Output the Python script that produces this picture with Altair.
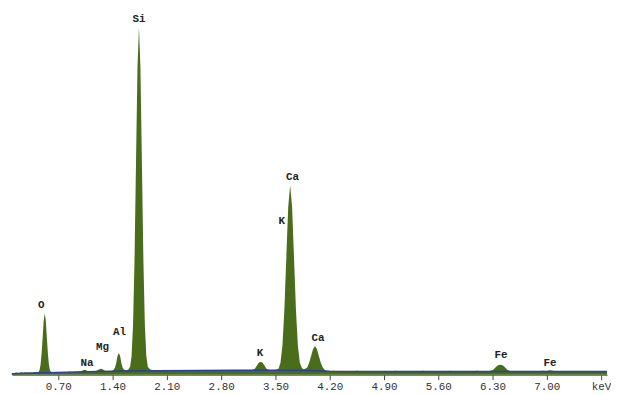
import altair as alt
import pandas as pd

# Spectrum (energy in keV, counts in arbitrary units)
energy = [
    0.10, 0.13, 0.16, 0.19, 0.22, 0.25, 0.28, 0.31, 0.34, 0.37, 0.40,
    0.444, 0.4575, 0.471, 0.4845, 0.498, 0.5115, 0.525, 0.5385, 0.552, 0.5655, 0.579, 0.5925, 0.606,
    0.64, 0.68, 0.72, 0.76, 0.80, 0.84, 0.88, 0.92, 0.96, 0.99,
    1.02, 1.04, 1.06, 1.09, 1.13, 1.17, 1.20, 1.23, 1.25, 1.27, 1.30, 1.34, 1.38,
    1.41, 1.43, 1.445, 1.463, 1.48, 1.497, 1.515, 1.53, 1.55, 1.575,
    1.60, 1.626, 1.645, 1.664, 1.683, 1.702, 1.721, 1.74, 1.759, 1.778, 1.797, 1.816, 1.835, 1.854, 1.88,
    1.92, 1.96, 2.00, 2.05, 2.10, 2.15, 2.20, 2.25, 2.30, 2.35, 2.40, 2.45, 2.50, 2.55, 2.60, 2.65,
    2.70, 2.75, 2.80, 2.85, 2.90, 2.95, 3.00, 3.05, 3.10, 3.15,
    3.21, 3.235, 3.26, 3.285, 3.31, 3.335, 3.36, 3.385, 3.41, 3.45, 3.50,
    3.54, 3.565, 3.59, 3.615, 3.64, 3.665, 3.69, 3.715, 3.74, 3.765, 3.79, 3.815, 3.84,
    3.86, 3.885, 3.91, 3.935, 3.96, 3.985, 4.01, 4.035, 4.06, 4.085, 4.11, 4.135, 4.16,
    4.20, 4.25, 4.30, 4.35, 4.40, 4.45, 4.50, 4.55, 4.60, 4.65, 4.70, 4.75, 4.80, 4.85, 4.90,
    4.95, 5.00, 5.05, 5.10, 5.15, 5.20, 5.25, 5.30, 5.35, 5.40, 5.45, 5.50, 5.55, 5.60, 5.65,
    5.70, 5.75, 5.80, 5.85, 5.90, 5.95, 6.00, 6.05, 6.10, 6.15, 6.20, 6.25,
    6.28, 6.31, 6.34, 6.37, 6.40, 6.43, 6.46, 6.49, 6.52,
    6.56, 6.60, 6.65, 6.70, 6.75, 6.80, 6.85, 6.90, 6.95, 7.00, 7.04, 7.08, 7.12,
    7.17, 7.22, 7.27, 7.32, 7.37, 7.42, 7.47, 7.52, 7.57, 7.62, 7.67, 7.72, 7.777,
]
counts = [
    1.0, 1.5, 2.2, 1.8, 2.5, 2.0, 2.4, 1.9, 2.3, 2.0, 2.4,
    2.7, 4.6, 10, 21.5, 38, 55, 62, 55, 38, 21.5, 10, 4.6, 2.7,
    2.2, 2.6, 2.3, 2.8, 2.5, 3.0, 2.7, 3.1, 2.9, 3.4,
    4.6, 5.0, 4.6, 3.3, 3.2, 3.4, 4.2, 5.6, 6.0, 5.6, 4.0, 3.6, 3.8,
    4.5, 7, 11, 19, 22, 19, 11, 7, 5, 4.5,
    5, 8, 19, 51, 117, 215, 311, 352, 311, 215, 117, 51, 19, 8, 5.5,
    4.6, 4.2, 4.5, 4.1, 4.4, 4.0, 4.3, 3.9, 4.4, 4.1, 4.5, 4.2, 4.6, 4.3, 4.5, 4.2,
    4.6, 4.3, 4.7, 4.4, 4.8, 4.5, 4.7, 4.4, 4.8, 4.6,
    5, 6, 9, 12, 13, 12, 9, 6, 5, 4.6, 4.8,
    6, 12, 29, 65, 118, 170, 192, 170, 118, 65, 29, 12, 7,
    5.5, 6, 7.4, 12, 19, 26, 29, 26, 19, 12, 7.4, 5, 4,
    3.6, 3.9, 3.5, 3.8, 3.4, 3.7, 3.5, 3.9, 3.4, 3.6, 3.8, 3.5, 3.7, 3.4, 3.8,
    3.5, 3.6, 3.9, 3.4, 3.7, 3.5, 3.8, 3.4, 3.6, 3.9, 3.5, 3.7, 3.4, 3.8, 3.5,
    3.6, 3.9, 3.5, 3.7, 3.4, 3.8, 3.5, 3.6, 3.9, 3.5, 3.7, 3.8,
    4, 5, 7.5, 9.5, 10, 9.5, 7.5, 5, 4,
    3.6, 3.8, 3.5, 3.7, 3.4, 3.8, 3.5, 3.7, 3.9, 3.8, 4.4, 3.9, 3.6,
    3.5, 3.7, 3.4, 3.6, 3.5, 3.8, 3.4, 3.6, 3.5, 3.7, 3.4, 3.6, 3.5,
]

# Background (blue) line
bg_energy = [0.10, 0.4, 0.8, 1.2, 1.6, 2.0, 2.5, 3.0, 3.5, 3.9, 4.2, 5.0, 6.0, 7.0, 7.777]
bg_counts = [1.0, 1.8, 2.6, 3.3, 3.8, 4.1, 4.3, 4.4, 4.4, 4.2, 3.4, 3.3, 3.3, 3.2, 3.2]

# Element labels
label_text = ["O", "Na", "Mg", "Al", "Si", "K", "Ca", "K", "Ca", "Fe", "Fe"]
label_energy = [0.48, 1.07, 1.27, 1.49, 1.74, 3.30, 3.72, 3.58, 4.05, 6.41, 7.04]
label_counts = [71, 12, 28, 43, 360, 22, 200, 156, 37, 20, 12]

# Axis ticks
tick_values = [0.7, 1.4, 2.1, 2.8, 3.5, 4.2, 4.9, 5.6, 6.3, 7.0, 7.7]

spec = pd.DataFrame({"energy": energy, "counts": counts})
bg = pd.DataFrame({"energy": bg_energy, "counts": bg_counts})
labels = pd.DataFrame({"text": label_text, "energy": label_energy, "counts": label_counts})

x_scale = alt.Scale(domain=[0.102, 7.777], nice=False, zero=False)
y_scale = alt.Scale(domain=[0, 369], nice=False)

x_axis = alt.Axis(
    values=tick_values,
    labelExpr="datum.value > 7.5 ? 'keV' : format(datum.value, '.2f')",
    title=None,
    grid=False,
    domainColor="#444444",
    tickColor="#444444",
    tickSize=5,
    labelFont="Liberation Mono",
    labelFontSize=11,
    labelColor="#333333",
    labelPadding=1,
)

area = alt.Chart(spec).mark_area(color="#4a6d1c", interpolate="linear").encode(
    x=alt.X("energy:Q", scale=x_scale, axis=x_axis),
    y=alt.Y("counts:Q", scale=y_scale, axis=None),
)

line = alt.Chart(bg).mark_line(color="#2b3f9e", strokeWidth=1.5).encode(
    x=alt.X("energy:Q", scale=x_scale),
    y=alt.Y("counts:Q", scale=y_scale),
)

text = alt.Chart(labels).mark_text(
    font="Liberation Mono", fontWeight="bold", fontSize=11, color="#222222", baseline="middle"
).encode(
    x=alt.X("energy:Q", scale=x_scale),
    y=alt.Y("counts:Q", scale=y_scale),
    text="text:N",
)

chart = (area + line + text).properties(
    width=603, height=369, padding=0, background="white"
).configure_view(stroke=None)

chart.save("out.html", embed_options={"renderer": "svg", "actions": False})
